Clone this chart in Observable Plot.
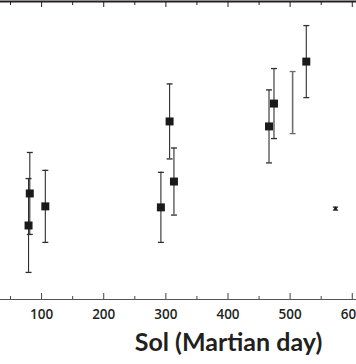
<!DOCTYPE html>
<html>
<head>
<meta charset="utf-8">
<script src="https://cdn.jsdelivr.net/npm/d3@7"></script>
<script src="https://cdn.jsdelivr.net/npm/@observablehq/plot@0.6"></script>
<style>
  html, body { margin: 0; padding: 0; background: white; overflow: hidden; }
  #chart svg { display: block; }
</style>
</head>
<body>
<div id="chart"></div>
<script>
// Data (y in arbitrary units)
const sols   = [79, 81, 106, 292, 306, 313, 466, 474, 504, 526, 573];
const values = [2.98, 4.27, 3.75, 3.71, 7.17, 4.75, 6.97, 7.89, 7.93, 9.58, 3.66];
const errors = [1.89, 1.65, 1.45, 1.41, 1.51, 1.35, 1.47, 1.41, 1.25, 1.45, 0.06];
const marker = ["big", "big", "big", "big", "big", "big", "big", "big", "none", "big", "small"];

const majorTicks = [100, 200, 300, 400, 500, 600];
const minorTicks = [50, 150, 250, 350, 450, 550];
const xLabel = "Sol (Martian day)";

const data = sols.map((s, i) => ({
  sol: s, value: values[i], lo: values[i] - errors[i], hi: values[i] + errors[i], marker: marker[i]
}));

const capSymbol = {
  draw(context, size) {
    const w = Math.sqrt(size / Math.PI);
    context.moveTo(-w, 0);
    context.lineTo(w, 0);
  }
};

const ink = "#231f20";
const barColor = d => d.marker === "none" ? "#6e6e6e" : "#2e2e2e";
const barWidth = d => d.marker === "none" ? 1.6 : 1.1;

const chart = Plot.plot({
  width: 356,
  height: 364,
  marginTop: 1,
  marginBottom: 65,
  marginLeft: 0,
  marginRight: 0,
  style: { fontFamily: "Open Sans", background: "white", color: ink },
  x: { domain: [33.86, 606.8] },
  y: { domain: [0, 12], axis: null },
  marks: [
    // frame lines
    Plot.ruleY([0], { stroke: "#555", strokeWidth: 1 }),
    Plot.ruleY([12], { stroke: ink, strokeWidth: 2 }),
    // ticks (inward)
    Plot.tickX(majorTicks, { x: d => d, insetTop: 292, stroke: "#444" }),
    Plot.tickX(minorTicks, { x: d => d, insetTop: 295, stroke: "#444" }),
    Plot.tickX(majorTicks, { x: d => d, insetBottom: 292, stroke: ink }),
    Plot.tickX(minorTicks, { x: d => d, insetBottom: 294, stroke: ink }),
    // tick labels
    Plot.axisX(majorTicks, {
      anchor: "bottom", tickSize: 0, tickPadding: 10, label: null,
      fontSize: 13.5, fontWeight: 600, fill: ink, tickFormat: d => String(d)
    }),
    // axis title
    Plot.text([xLabel], {
      frameAnchor: "bottom", dx: 50, dy: 51, text: d => d,
      fontSize: 25, fontWeight: "bold", fontFamily: "Lato", fill: ink
    }),
    // error bars
    Plot.ruleX(data, { x: "sol", y1: "lo", y2: "hi", stroke: barColor, strokeWidth: barWidth }),
    Plot.dot(data, { x: "sol", y: "hi", symbol: capSymbol, r: d => d.marker === "small" ? 3 : 4, stroke: barColor, fill: "none", strokeWidth: 1.3 }),
    Plot.dot(data, { x: "sol", y: "lo", symbol: capSymbol, r: d => d.marker === "small" ? 3 : 4, stroke: barColor, fill: "none", strokeWidth: 1.3 }),
    // markers
    Plot.dot(data.filter(d => d.marker === "big"), { x: "sol", y: "value", symbol: "square", r: 4.5, fill: "#1a1a1a", stroke: "none" }),
    Plot.dot(data.filter(d => d.marker === "small"), { x: "sol", y: "value", symbol: "square", r: 1.6, fill: "#1a1a1a", stroke: "none" })
  ]
});

document.getElementById("chart").appendChild(chart);
</script>
</body>
</html>
